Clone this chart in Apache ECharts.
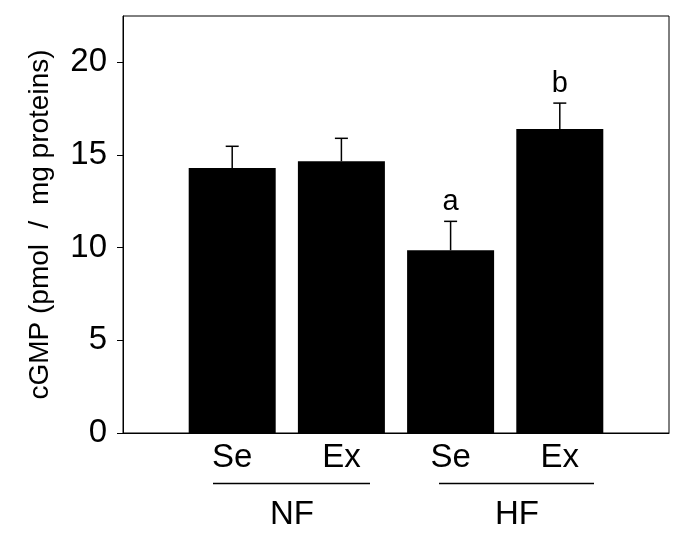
<!DOCTYPE html>
<html>
<head>
<meta charset="utf-8">
<script src="https://cdn.jsdelivr.net/npm/echarts@6/dist/echarts.min.js"></script>
<style>
html,body{margin:0;padding:0;background:#fff;}
#chart{width:681px;height:542px;}
</style>
</head>
<body>
<div id="chart"></div>
<script>
// ---- data ----
const treatments = ['Se', 'Ex', 'Se', 'Ex'];
const groups = ['NF', 'HF'];
const positions = [1, 2, 3, 4];
const means = [14.3, 14.66, 9.86, 16.4];
const upperErr = [15.47, 15.9, 11.42, 17.8];
const letters = ['', '', 'a', 'b'];
const yTicks = [0, 5, 10, 15, 20];
const yTitle = 'cGMP (pmol  /  mg proteins)';

const FONT = 'Liberation Sans, Arial, sans-serif';
const chart = echarts.init(document.getElementById('chart'), null, {renderer: 'canvas'});

const barData = positions.map((p, i) => [p, means[i]]);
const errData = positions.map((p, i) => [p, means[i], upperErr[i], letters[i]]);

const option = {
  backgroundColor: '#fff',
  animation: false,
  grid: {left: 123, right: 12, top: 16, bottom: 109, show: true, borderColor: '#000', borderWidth: 1, backgroundColor: 'transparent'},
  xAxis: {
    type: 'value', min: 0, max: 5, interval: 1,
    axisLine: {show: true, lineStyle: {color: '#000', width: 1}},
    axisTick: {show: false},
    splitLine: {show: false},
    axisLabel: {
      fontFamily: FONT, fontSize: 33, color: '#000', margin: 8,
      formatter: v => { const i = positions.indexOf(v); return i >= 0 ? treatments[i] : ''; }
    }
  },
  yAxis: {
    type: 'value', min: 0, max: 22.5, interval: 5,
    name: yTitle, nameLocation: 'middle', nameGap: 69,
    nameTextStyle: {fontFamily: FONT, fontSize: 28, color: '#000'},
    axisLine: {show: true, lineStyle: {color: '#000', width: 1}},
    axisTick: {show: true, inside: false, length: 6, lineStyle: {color: '#000'}, customValues: yTicks},
    axisLabel: {fontFamily: FONT, fontSize: 33, color: '#000', margin: 16, customValues: yTicks},
    splitLine: {show: false}
  },
  series: [
    {
      type: 'bar', data: barData, barWidth: 87,
      itemStyle: {color: '#000'}, z: 2
    },
    {
      type: 'custom', data: errData, z: 3,
      renderItem: function (params, api) {
        const x = api.value(0);
        const base = api.coord([x, api.value(1)]);
        const top = api.coord([x, api.value(2)]);
        const lab = errData[params.dataIndex][3];
        const half = 6.5;
        const children = [
          {type: 'line', shape: {x1: base[0], y1: base[1], x2: top[0], y2: top[1]}, style: {stroke: '#000', lineWidth: 1.5}},
          {type: 'line', shape: {x1: top[0] - half, y1: top[1], x2: top[0] + half, y2: top[1]}, style: {stroke: '#000', lineWidth: 1.5}}
        ];
        if (lab) {
          children.push({type: 'text', x: top[0], y: top[1] - 19,
            style: {text: lab, font: '29px ' + FONT, fill: '#000', align: 'center', verticalAlign: 'middle'}});
        }
        return {type: 'group', children: children};
      }
    }
  ],
  graphic: [
    {type: 'line', shape: {x1: 213, y1: 483.5, x2: 370, y2: 483.5}, style: {stroke: '#000', lineWidth: 1.6}},
    {type: 'line', shape: {x1: 439, y1: 483.5, x2: 594, y2: 483.5}, style: {stroke: '#000', lineWidth: 1.6}},
    {type: 'text', x: 292, y: 515, style: {text: groups[0], font: '33px ' + FONT, fill: '#000', align: 'center', verticalAlign: 'middle'}},
    {type: 'text', x: 517, y: 515, style: {text: groups[1], font: '33px ' + FONT, fill: '#000', align: 'center', verticalAlign: 'middle'}}
  ]
};
chart.setOption(option);
</script>
</body>
</html>
